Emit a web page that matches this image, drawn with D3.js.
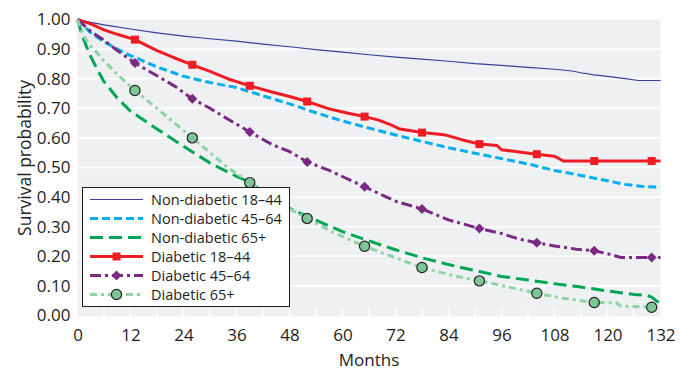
<!DOCTYPE html>
<html>
<head>
<meta charset="utf-8">
<script src="https://cdn.jsdelivr.net/npm/d3@7"></script>
<style>
  body { margin: 0; background: #fff; }
  text { font-family: "Open Sans", "Noto Sans", sans-serif; fill: #231f20; }
</style>
</head>
<body>
<div id="wrapper"></div>
<script>
// Survival curves, values (months / survival probability)
const nd1844Months = [0, 3, 6, 12, 18, 24, 30, 36, 42, 48, 54, 60, 66, 72, 78, 84, 90, 96, 102, 108, 112, 114, 117, 120, 124, 127, 132]
const nd1844Values = [1, 0.99, 0.982, 0.968, 0.955, 0.944, 0.935, 0.927, 0.917, 0.908, 0.898, 0.89, 0.881, 0.873, 0.866, 0.859, 0.851, 0.845, 0.838, 0.832, 0.826, 0.82, 0.813, 0.808, 0.8, 0.794, 0.794]

const nd4564Months = [0, 3, 6, 9, 12, 18, 24, 30, 36, 42, 48, 54, 60, 66, 72, 78, 84, 90, 96, 102, 108, 114, 120, 124, 128, 132]
const nd4564Values = [1, 0.955, 0.925, 0.9, 0.878, 0.84, 0.808, 0.787, 0.77, 0.742, 0.715, 0.685, 0.657, 0.633, 0.61, 0.588, 0.567, 0.548, 0.53, 0.512, 0.49, 0.473, 0.455, 0.443, 0.436, 0.434]

const nd65Months = [0, 1, 2, 3, 4, 6, 9, 12, 18, 24, 30, 36, 39, 42, 48, 52, 60, 66, 72, 78, 84, 90, 96, 102, 108, 114, 120, 126, 129, 130, 131, 132]
const nd65Values = [1, 0.95, 0.91, 0.875, 0.845, 0.79, 0.735, 0.69, 0.63, 0.572, 0.515, 0.47, 0.45, 0.418, 0.362, 0.335, 0.283, 0.252, 0.222, 0.195, 0.172, 0.152, 0.132, 0.12, 0.107, 0.096, 0.083, 0.071, 0.068, 0.062, 0.05, 0.041]

const d1844Months = [0, 3, 6, 9, 13, 18, 22, 26, 30, 34, 39, 44, 48, 52, 57, 61, 65, 68, 71, 73, 78, 83, 87, 91, 95, 96, 100, 104, 108, 110, 117, 130, 132]
const d1844Values = [1, 0.985, 0.965, 0.95, 0.932, 0.895, 0.87, 0.847, 0.825, 0.8, 0.776, 0.755, 0.74, 0.723, 0.698, 0.684, 0.672, 0.661, 0.644, 0.63, 0.618, 0.611, 0.594, 0.579, 0.574, 0.56, 0.552, 0.545, 0.538, 0.522, 0.522, 0.522, 0.522]

const d4564Months = [0, 3, 6, 9, 13, 18, 22, 26, 30, 34, 39, 44, 48, 52, 57, 65, 72, 78, 84, 91, 96, 100, 104, 108, 113, 117, 121, 123, 126, 130, 132]
const d4564Values = [1, 0.96, 0.93, 0.895, 0.853, 0.81, 0.775, 0.732, 0.7, 0.664, 0.62, 0.578, 0.554, 0.519, 0.49, 0.435, 0.386, 0.36, 0.323, 0.294, 0.277, 0.258, 0.246, 0.235, 0.224, 0.219, 0.205, 0.196, 0.196, 0.196, 0.196]

const d65Months = [0, 1, 2, 3, 4, 6, 9, 13, 18, 22, 26, 30, 34, 39, 45, 52, 58, 65, 72, 78, 85, 91, 98, 104, 110, 117, 122, 123, 126, 130, 132]
const d65Values = [1, 0.96, 0.93, 0.91, 0.895, 0.86, 0.815, 0.76, 0.7, 0.65, 0.6, 0.55, 0.5, 0.449, 0.385, 0.328, 0.28, 0.234, 0.195, 0.162, 0.135, 0.117, 0.095, 0.075, 0.058, 0.044, 0.043, 0.032, 0.03, 0.028, 0.028]

const markerMonths = [13, 26, 39, 52, 65, 78, 91, 104, 117, 130]
const xTicks = [0, 12, 24, 36, 48, 60, 72, 84, 96, 108, 120, 132]
const yTicks = [0, 0.1, 0.2, 0.3, 0.4, 0.5, 0.6, 0.7, 0.8, 0.9, 1.0]

const series = [
  { name: "Non-diabetic 18\u201344", months: nd1844Months, values: nd1844Values, color: "#3b3f98", width: 1.2, dash: null, marker: null },
  { name: "Non-diabetic 45\u201364", months: nd4564Months, values: nd4564Values, color: "#00aeef", width: 3, dash: "8,4", marker: null },
  { name: "Non-diabetic 65+", months: nd65Months, values: nd65Values, color: "#00a651", width: 3, dash: "13,6", marker: null },
  { name: "Diabetic 18\u201344", months: d1844Months, values: d1844Values, color: "#ee1c25", width: 3, dash: null, marker: "square" },
  { name: "Diabetic 45\u201364", months: d4564Months, values: d4564Values, color: "#7a2a83", width: 3, dash: "11,4,3,4", marker: "diamond" },
  { name: "Diabetic 65+", months: d65Months, values: d65Values, color: "#8fd3a5", width: 3, dash: "7,4,3,4", marker: "circle" },
]

// dimensions
let dimensions = {
  width: 691,
  height: 372,
  margin: { top: 19.5, right: 30.5, bottom: 56.5, left: 77.5 },
}
dimensions.boundedWidth = dimensions.width - dimensions.margin.left - dimensions.margin.right
dimensions.boundedHeight = dimensions.height - dimensions.margin.top - dimensions.margin.bottom

const wrapper = d3.select("#wrapper")
  .append("svg")
  .attr("width", dimensions.width)
  .attr("height", dimensions.height)

const bounds = wrapper.append("g")
  .attr("transform", `translate(${dimensions.margin.left},${dimensions.margin.top})`)

// scales
const xScale = d3.scaleLinear().domain([0, 132]).range([0, dimensions.boundedWidth])
const yScale = d3.scaleLinear().domain([0, 1]).range([dimensions.boundedHeight, 0])

// background + grid
bounds.append("rect")
  .attr("x", 0).attr("y", 0)
  .attr("width", dimensions.boundedWidth)
  .attr("height", dimensions.boundedHeight + 1)
  .attr("fill", "#eff0f2")

bounds.selectAll(".grid")
  .data(yTicks.filter(d => d > 0 && d < 1))
  .join("line")
  .attr("x1", 0).attr("x2", dimensions.boundedWidth)
  .attr("y1", d => yScale(d)).attr("y2", d => yScale(d))
  .attr("stroke", "#fff")
  .attr("stroke-width", 1.6)

bounds.selectAll(".xtick")
  .data(d3.range(6, 132, 6))
  .join("line")
  .attr("x1", d => xScale(d)).attr("x2", d => xScale(d))
  .attr("y1", dimensions.boundedHeight - 7).attr("y2", dimensions.boundedHeight + 1)
  .attr("stroke", "#fff")
  .attr("stroke-width", 1.6)

// axes
const yAxis = bounds.append("g")
  .call(d3.axisLeft(yScale).tickValues(yTicks).tickSize(0).tickPadding(7).tickFormat(d3.format(".2f")))
yAxis.select(".domain").remove()
yAxis.selectAll("text").style("font-size", "17px").attr("fill", "#231f20")

const xAxis = bounds.append("g")
  .attr("transform", `translate(0,${dimensions.boundedHeight})`)
  .call(d3.axisBottom(xScale).tickValues(xTicks).tickSize(0).tickPadding(13))
xAxis.select(".domain").remove()
xAxis.selectAll("text").style("font-size", "17px").attr("fill", "#231f20")

wrapper.append("text")
  .attr("x", 369).attr("y", 366)
  .attr("text-anchor", "middle")
  .style("font-size", "17px")
  .text("Months")

wrapper.append("text")
  .attr("transform", "translate(31,158) rotate(-90)")
  .attr("text-anchor", "middle")
  .style("font-size", "17.5px")
  .text("Survival probability")

// lines
const lineGenerator = d3.line()
  .x(d => xScale(d[0]))
  .y(d => yScale(d[1]))

const symbolFor = {
  square: d3.symbol().type(d3.symbolSquare).size(64),
  diamond: d3.symbol().type(d3.symbolSquare).size(50),
  circle: d3.symbol().type(d3.symbolCircle).size(82),
}

function drawMarker(g, s, x, y) {
  g.append("path")
    .attr("d", symbolFor[s.marker]())
    .attr("transform", `translate(${x},${y})` + (s.marker == "diamond" ? " rotate(45)" : ""))
    .attr("fill", s.marker == "circle" ? "#7cc795" : s.color)
    .attr("stroke", s.marker == "circle" ? "#231f20" : "none")
    .attr("stroke-width", 1.2)
}

series.forEach(s => {
  const pts = s.months.map((m, i) => [m, s.values[i]])
  bounds.append("path")
    .attr("d", lineGenerator(pts))
    .attr("fill", "none")
    .attr("stroke", s.color)
    .attr("stroke-width", s.width)
    .attr("stroke-dasharray", s.dash)
    .attr("stroke-linejoin", "round")
  if (s.marker) {
    pts.filter(p => markerMonths.includes(p[0])).forEach(p => {
      drawMarker(bounds, s, xScale(p[0]), yScale(p[1]))
    })
  }
})

// legend
const legend = wrapper.append("g")
legend.append("rect")
  .attr("x", 82.5).attr("y", 187.5)
  .attr("width", 207).attr("height", 119)
  .attr("fill", "#fff")
  .attr("stroke", "#231f20")
  .attr("stroke-width", 1)

series.forEach((s, i) => {
  const y = 199.5 + i * 19
  legend.append("line")
    .attr("x1", 90).attr("x2", 143)
    .attr("y1", y).attr("y2", y)
    .attr("stroke", s.color)
    .attr("stroke-width", s.width)
    .attr("stroke-dasharray", s.dash)
  if (s.marker) drawMarker(legend, s, 116.5, y)
  legend.append("text")
    .attr("x", 151).attr("y", y)
    .attr("dy", "0.35em")
    .style("font-size", "14.5px")
    .text(s.name)
})
</script>
</body>
</html>
